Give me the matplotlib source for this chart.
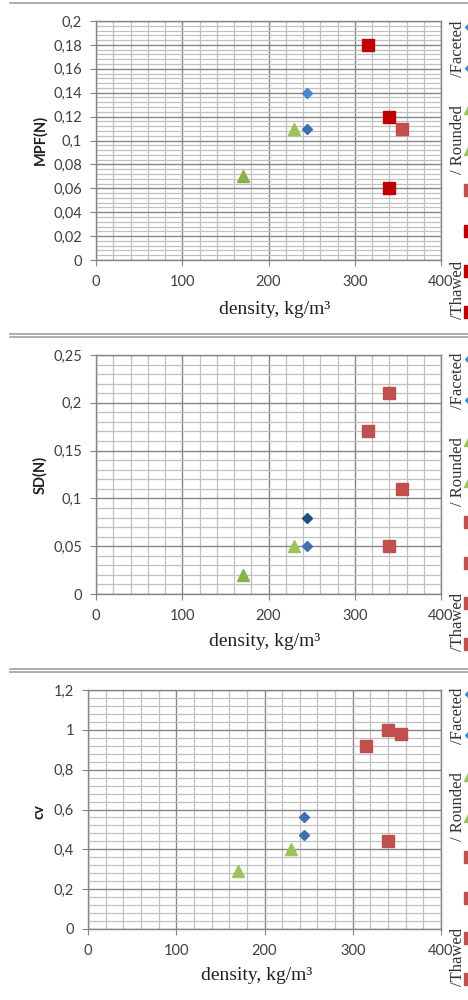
import matplotlib
matplotlib.use("Agg")
import matplotlib.pyplot as plt
from matplotlib.ticker import MultipleLocator, FuncFormatter
from matplotlib.lines import Line2D

# ---------------- data ----------------
faceted_density = [245, 245]
rounded_density = [230, 170]
thawed_density = [355, 315, 340, 340]

mpf_faceted = [0.14, 0.11]
mpf_rounded = [0.11, 0.07]
mpf_thawed = [0.11, 0.18, 0.12, 0.06]

sd_faceted = [0.08, 0.05]
sd_rounded = [0.05, 0.02]
sd_thawed = [0.11, 0.17, 0.05, 0.21]

cv_faceted = [0.56, 0.47]
cv_rounded = [0.40, 0.29]
cv_thawed = [0.98, 0.92, 0.44, 1.00]

legend_labels = ["/Faceted", "/ Rounded", "/Thawed"]
y_labels = ["MPF(N)", "SD(N)", "cv"]
x_label = "density, kg/m\u00b3"

# ---------------- style ----------------
W, H = 468, 1000
fig = plt.figure(figsize=(W / 100, H / 100), dpi=100)

SANS = ["Lato", "DejaVu Sans"]
SERIF = ["Liberation Serif", "DejaVu Serif"]
MAJ = "#868686"
MIN = "#c0c0c0"
TXT = "#404040"

BLUE_L = "#4a86c8"
BLUE_M = "#3f6fb0"
BLUE_D = "#1f4e85"
GREEN_L = "#9bc35a"
GREEN_D = "#8ab04a"
RED_L = "#c0504d"
RED_D = "#c00000"


def px_x(x):
    return x / W


def px_y(y):
    return 1 - y / H


def fmt(v, pos):
    s = ("%.3f" % v).rstrip("0").rstrip(".")
    return s.replace(".", ",")


def panel(left, right, top, bottom, ymax, ymajor, yminor,
          faceted, rounded, thawed, fcols, rcols, tcols):
    ax = fig.add_axes([px_x(left), px_y(bottom), (right - left) / W, (bottom - top) / H])
    ax.set_xlim(0, 400)
    ax.set_ylim(0, ymax)
    ax.xaxis.set_major_locator(MultipleLocator(100))
    ax.xaxis.set_minor_locator(MultipleLocator(20))
    ax.yaxis.set_major_locator(MultipleLocator(ymajor))
    ax.yaxis.set_minor_locator(MultipleLocator(yminor))
    ax.yaxis.set_major_formatter(FuncFormatter(fmt))
    ax.grid(which="minor", color=MIN, lw=0.9, zorder=0)
    ax.grid(which="major", color=MAJ, lw=1.0, zorder=0)
    ax.set_axisbelow(True)
    for sp in ax.spines.values():
        sp.set_color(MAJ)
        sp.set_linewidth(1.0)
    ax.tick_params(which="major", direction="out", length=4, color=MAJ,
                   labelsize=10.5, labelcolor=TXT, pad=6)
    ax.tick_params(axis="x", pad=7)
    ax.tick_params(which="minor", length=0)
    for lab in ax.get_xticklabels() + ax.get_yticklabels():
        lab.set_family(SANS)
    for d, v, c in zip(faceted_density, faceted, fcols):
        ax.plot([d], [v], marker="D", ms=5.2, color=c, mec=c, ls="none", zorder=3)
    for d, v, c in zip(rounded_density, rounded, rcols):
        ax.plot([d], [v], marker="^", ms=8.5, color=c, mec=c, ls="none", zorder=3)
    for d, v, c in zip(thawed_density, thawed, tcols):
        ax.plot([d], [v], marker="s", ms=8.3, color=c, mec=c, ls="none", zorder=3)
    return ax


def separator(y, double):
    ys = [y - 1.5, y + 1.5] if double else [y]
    for yy in ys:
        fig.add_artist(Line2D([px_x(10), 1.0], [px_y(yy), px_y(yy)],
                              color="#a0a0a0", lw=1.2))


def side_legend(top, mcols, mshapes):
    offs = [46, 137, 287]
    for lab, o in zip(legend_labels, offs):
        fig.text(px_x(458), px_y(top + o), lab, rotation=90, ha="center",
                 va="center", family=SERIF, fontsize=12, color="#333333")
    for i, (c, m) in enumerate(zip(mcols, mshapes)):
        y = top + 24 + 40.7 * i
        ms = {"D": 5.2, "^": 8.0, "s": 8.0}[m]
        fig.add_artist(Line2D([px_x(470)], [px_y(y)], marker=m, ms=ms,
                              color=c, mec=c, ls="none"))


def labels(xl_x, xl_y, yl_y, ylabel):
    fig.text(px_x(xl_x), px_y(xl_y), x_label, ha="center", va="center",
             family=SERIF, fontsize=14, color="#202020")
    fig.text(px_x(40), px_y(yl_y), ylabel, ha="center", va="center",
             rotation=90, family=SANS, fontsize=10.5, fontweight="bold",
             color="#202020")


shapes = ["D", "D", "^", "^", "s", "s", "s", "s"]

# Panel 1: MPF
separator(3, False)
panel(96, 441, 21, 260, 0.2, 0.02, 0.004,
      mpf_faceted, mpf_rounded, mpf_thawed,
      [BLUE_L, BLUE_M], [GREEN_L, GREEN_D], [RED_L, RED_D, RED_D, RED_D])
labels(275, 310, 140, y_labels[0])
side_legend(3, [BLUE_L, BLUE_L, GREEN_L, GREEN_L, RED_L, RED_D, RED_D, RED_D], shapes)

# Panel 2: SD
separator(335, True)
panel(96, 441, 355, 594, 0.25, 0.05, 0.01,
      sd_faceted, sd_rounded, sd_thawed,
      [BLUE_D, BLUE_M], [GREEN_L, GREEN_D], [RED_L] * 4)
labels(265, 642, 475, y_labels[1])
side_legend(335, [BLUE_L, BLUE_L, GREEN_L, GREEN_L, RED_L, RED_L, RED_L, RED_L], shapes)

# Panel 3: cv
separator(670, True)
panel(88, 441, 690, 929, 1.2, 0.2, 0.04,
      cv_faceted, cv_rounded, cv_thawed,
      [BLUE_M, BLUE_M], [GREEN_L, GREEN_L], [RED_L] * 4)
labels(257, 975, 812, y_labels[2])
side_legend(670, [BLUE_L, BLUE_L, GREEN_L, GREEN_L, RED_L, RED_L, RED_L, RED_L], shapes)

fig.savefig("out.png", dpi=100)
